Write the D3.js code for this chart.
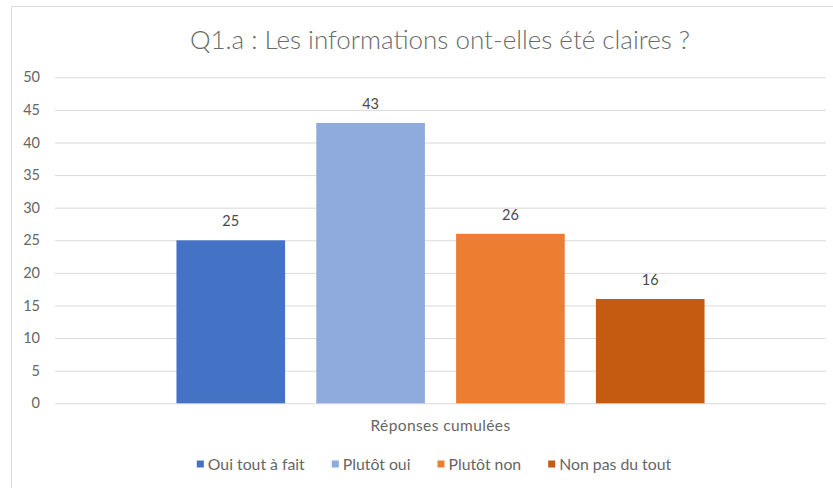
<!DOCTYPE html>
<html>
<head>
<meta charset="utf-8">
<script src="https://cdnjs.cloudflare.com/ajax/libs/d3/7.8.5/d3.min.js"></script>
<style>
  html, body { margin: 0; padding: 0; background: #fff; }
  svg { display: block; font-family: Lato, "Open Sans", sans-serif; }
</style>
</head>
<body>
<svg id="chart" width="833" height="488"></svg>
<script>
// data
var category = 'Réponses cumulées';
var seriesNames = ['Oui tout à fait', 'Plutôt oui', 'Plutôt non', 'Non pas du tout'];
var seriesValues = [25, 43, 26, 16];
var seriesColors = ['#4472C4', '#8FAADC', '#ED7D31', '#C55A11'];
var yTicks = [0, 5, 10, 15, 20, 25, 30, 35, 40, 45, 50];
var title = 'Q1.a : Les informations ont-elles été claires ?';

var svg = d3.select('#chart');
var plotLeft = 55, plotRight = 826, plotTop = 77.3, plotBottom = 403.3;

// frame (left + top edges visible)
svg.append('line').attr('x1', 11.5).attr('x2', 11.5).attr('y1', 6.5).attr('y2', 488)
    .attr('stroke', '#d9d9d9');
svg.append('line').attr('x1', 11.5).attr('x2', 833).attr('y1', 6.5).attr('y2', 6.5)
    .attr('stroke', '#d9d9d9');

svg.append('text').attr('x', 440).attr('y', 48.5)
    .attr('text-anchor', 'middle').attr('fill', '#6a6a6a')
    .style('font-size', '26px').style('font-weight', 300).text(title);

var yScale = d3.scaleLinear().domain([0, 50]).range([plotBottom, plotTop]);
var x0 = d3.scaleBand().domain([category]).range([plotLeft, plotRight]).paddingOuter(0.23);
var x1 = d3.scaleBand().domain(seriesNames).range([0, x0.bandwidth()]).paddingInner(0.223);

// gridlines + y labels
var yAxis = d3.axisLeft(yScale).tickValues(yTicks).tickSize(-(plotRight - plotLeft)).tickPadding(15);
var gy = svg.append('g').attr('class', 'yaxis').attr('transform', 'translate(' + plotLeft + ',0)').call(yAxis);
gy.select('.domain').remove();
gy.selectAll('line').attr('stroke', '#d9d9d9');
gy.selectAll('text').attr('fill', '#666').style('font-size', '14.5px')
    .style('font-family', 'Lato, "Open Sans", sans-serif');

var bars = svg.append('g').attr('class', 'rectangles')
    .attr('transform', 'translate(' + x0(category) + ',0)');
bars.selectAll('rect').data(seriesNames).enter().append('rect')
    .attr('x', function(d) { return x1(d); })
    .attr('width', x1.bandwidth())
    .attr('y', function(d, i) { return yScale(seriesValues[i]); })
    .attr('height', function(d, i) { return plotBottom - yScale(seriesValues[i]); })
    .style('fill', function(d, i) { return seriesColors[i]; });

bars.selectAll('text').data(seriesNames).enter().append('text')
    .attr('x', function(d) { return x1(d) + x1.bandwidth() / 2; })
    .attr('y', function(d, i) { return yScale(seriesValues[i]) - 14; })
    .attr('text-anchor', 'middle').attr('fill', '#4a4a4a')
    .style('font-size', '14.5px')
    .text(function(d, i) { return seriesValues[i]; });

// category label
svg.append('text').attr('x', x0(category) + x0.bandwidth() / 2).attr('y', 430.5)
    .attr('text-anchor', 'middle').attr('fill', '#666')
    .style('font-size', '15.5px').style('letter-spacing', '0.4px').text(category);

// legend, laid out from measured text widths and centred
var legend = svg.append('g').attr('class', 'legend');
var items = legend.selectAll('g').data(seriesNames).enter().append('g');
items.append('rect').attr('width', 7).attr('height', 7).attr('y', -3.5)
    .style('fill', function(d, i) { return seriesColors[i]; });
items.append('text').attr('x', 11).attr('y', 5.5).attr('fill', '#666')
    .style('font-size', '15.8px').text(function(d) { return d; });
var pos = 0, offsets = [];
items.each(function() {
    offsets.push(pos);
    pos += 11 + d3.select(this).select('text').node().getComputedTextLength() + 27;
});
pos -= 27;
items.attr('transform', function(d, i) { return 'translate(' + offsets[i] + ',0)'; });
legend.attr('transform', 'translate(' + (434 - pos / 2) + ',464)');
</script>
</body>
</html>
